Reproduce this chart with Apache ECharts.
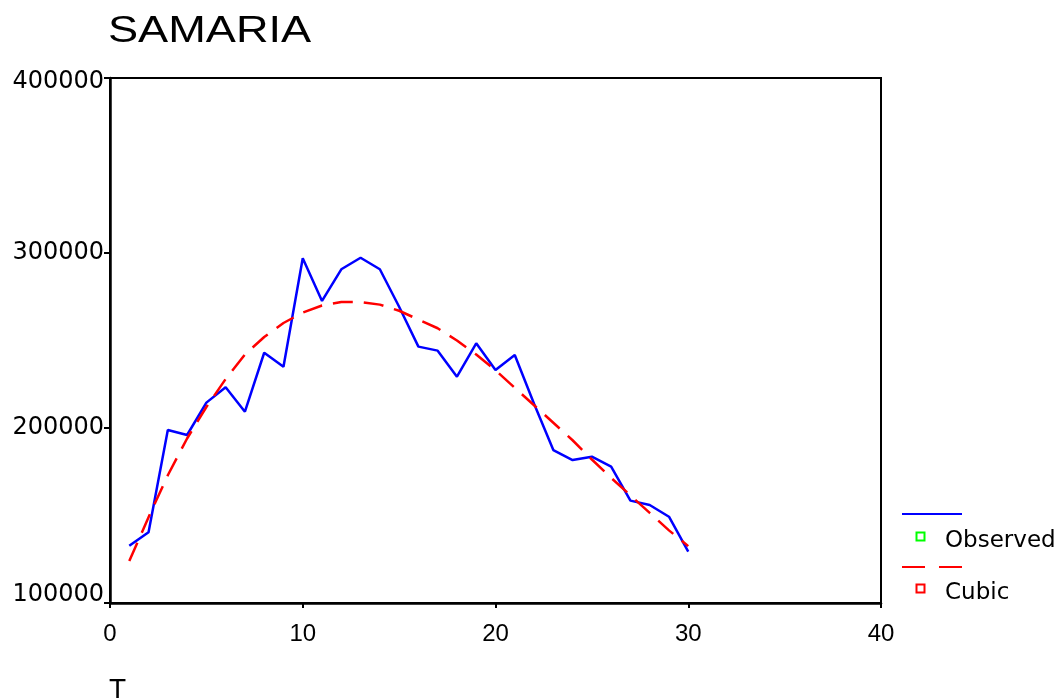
<!DOCTYPE html>
<html>
<head>
<meta charset="utf-8">
<script src="https://cdn.jsdelivr.net/npm/echarts@6/dist/echarts.min.js"></script>
<style>html,body{margin:0;padding:0;background:#fff;}#c{width:1059px;height:700px;}</style>
</head>
<body>
<div id="c"></div>
<script>
var chartTitle = 'SAMARIA';
var xName = 'T';
var tValues = [1,2,3,4,5,6,7,8,9,10,11,12,13,14,15,16,17,18,19,20,21,22,23,24,25,26,27,28,29,30];
var observed = [132700,140400,198900,196000,214500,223300,209300,243000,235000,297000,272600,290700,297300,290700,269300,246500,244200,229300,248400,233100,241700,213900,187400,181700,183600,177900,158500,156000,149300,129300];
var cubic = [124000,149000,173000,194000,212000,228000,242000,252000,260000,266000,270000,272000,272000,270500,267000,262000,257000,250000,242000,233000,223000,213000,203000,193000,182000,171500,161500,151500,141500,132500];
var legendNames = ['Observed','Cubic'];
var yTicks = [100000,200000,300000,400000];
var xTicks = [0,10,20,30,40];

function pairs(vals){ return tValues.map(function(t,i){ return [t, vals[i]]; }); }

var chart = echarts.init(document.getElementById('c'), null, {renderer:'canvas'});
chart.setOption({
  animation: false,
  backgroundColor: '#ffffff',
  grid: {left:110, top:78, right:178, bottom:97, show:true, borderColor:'#000', borderWidth:2, backgroundColor:'transparent'},
  xAxis: {
    type:'value', min:xTicks[0], max:xTicks[xTicks.length-1], interval:10,
    axisLine:{show:true, onZero:false, lineStyle:{color:'#000', width:2.5}},
    axisTick:{show:true, inside:false, length:5, lineStyle:{color:'#000', width:2}},
    splitLine:{show:false},
    axisLabel:{color:'#000', fontFamily:'Liberation Sans', fontSize:24, margin:19}
  },
  yAxis: {
    type:'value', min:yTicks[0], max:yTicks[yTicks.length-1], interval:100000,
    axisLine:{show:true, onZero:false, lineStyle:{color:'#000', width:2.5}},
    axisTick:{show:true, inside:false, length:6, lineStyle:{color:'#000', width:2}},
    splitLine:{show:false},
    axisLabel:{color:'#000', fontFamily:'DejaVu Sans', fontSize:24, margin:6,
      formatter:function(v){
        if (v === yTicks[0]) return '{b|' + v + '}';
        if (v === yTicks[yTicks.length-1]) return '{t|' + v + '}';
        return '{n|' + v + '}';
      },
      rich:{
        b:{fontFamily:'DejaVu Sans', fontSize:24, color:'#000', padding:[0,0,16,0]},
        t:{fontFamily:'DejaVu Sans', fontSize:24, color:'#000', padding:[7,0,0,0]},
        n:{fontFamily:'DejaVu Sans', fontSize:24, color:'#000'}
      }
    }
  },
  series: [
    {name:legendNames[0], type:'line', data:pairs(observed), showSymbol:false, symbol:'none', z:2,
     lineStyle:{color:'#0000ff', width:2.5}},
    {name:legendNames[1], type:'line', data:pairs(cubic), showSymbol:false, symbol:'none', z:3,
     lineStyle:{color:'#ff0000', width:2.5, type:[20,11]}}
  ],
  graphic: [
    {type:'text', x:108, y:32, scaleX:1.22, originX:0, originY:0, style:{text:chartTitle, font:'37px "Liberation Sans"', fill:'#000', verticalAlign:'middle', align:'left'}},
    {type:'text', x:109, y:690, style:{text:xName, font:'28px "Liberation Sans"', fill:'#000', verticalAlign:'middle', align:'left'}},
    {type:'line', shape:{x1:902, y1:514, x2:962, y2:514}, style:{stroke:'#0000ff', lineWidth:2}},
    {type:'rect', shape:{x:916.5, y:532.5, width:8, height:8}, style:{stroke:'#00ff00', lineWidth:2, fill:'none'}},
    {type:'text', x:945, y:541, style:{text:legendNames[0], font:'23px "DejaVu Sans"', fill:'#000', verticalAlign:'middle', align:'left'}},
    {type:'line', shape:{x1:902, y1:567, x2:925, y2:567}, style:{stroke:'#ff0000', lineWidth:2}},
    {type:'line', shape:{x1:939, y1:567, x2:962, y2:567}, style:{stroke:'#ff0000', lineWidth:2}},
    {type:'rect', shape:{x:916.5, y:584.5, width:8, height:8}, style:{stroke:'#ff0000', lineWidth:2, fill:'none'}},
    {type:'text', x:945, y:593, style:{text:legendNames[1], font:'23px "DejaVu Sans"', fill:'#000', verticalAlign:'middle', align:'left'}}
  ]
});
</script>
</body>
</html>
